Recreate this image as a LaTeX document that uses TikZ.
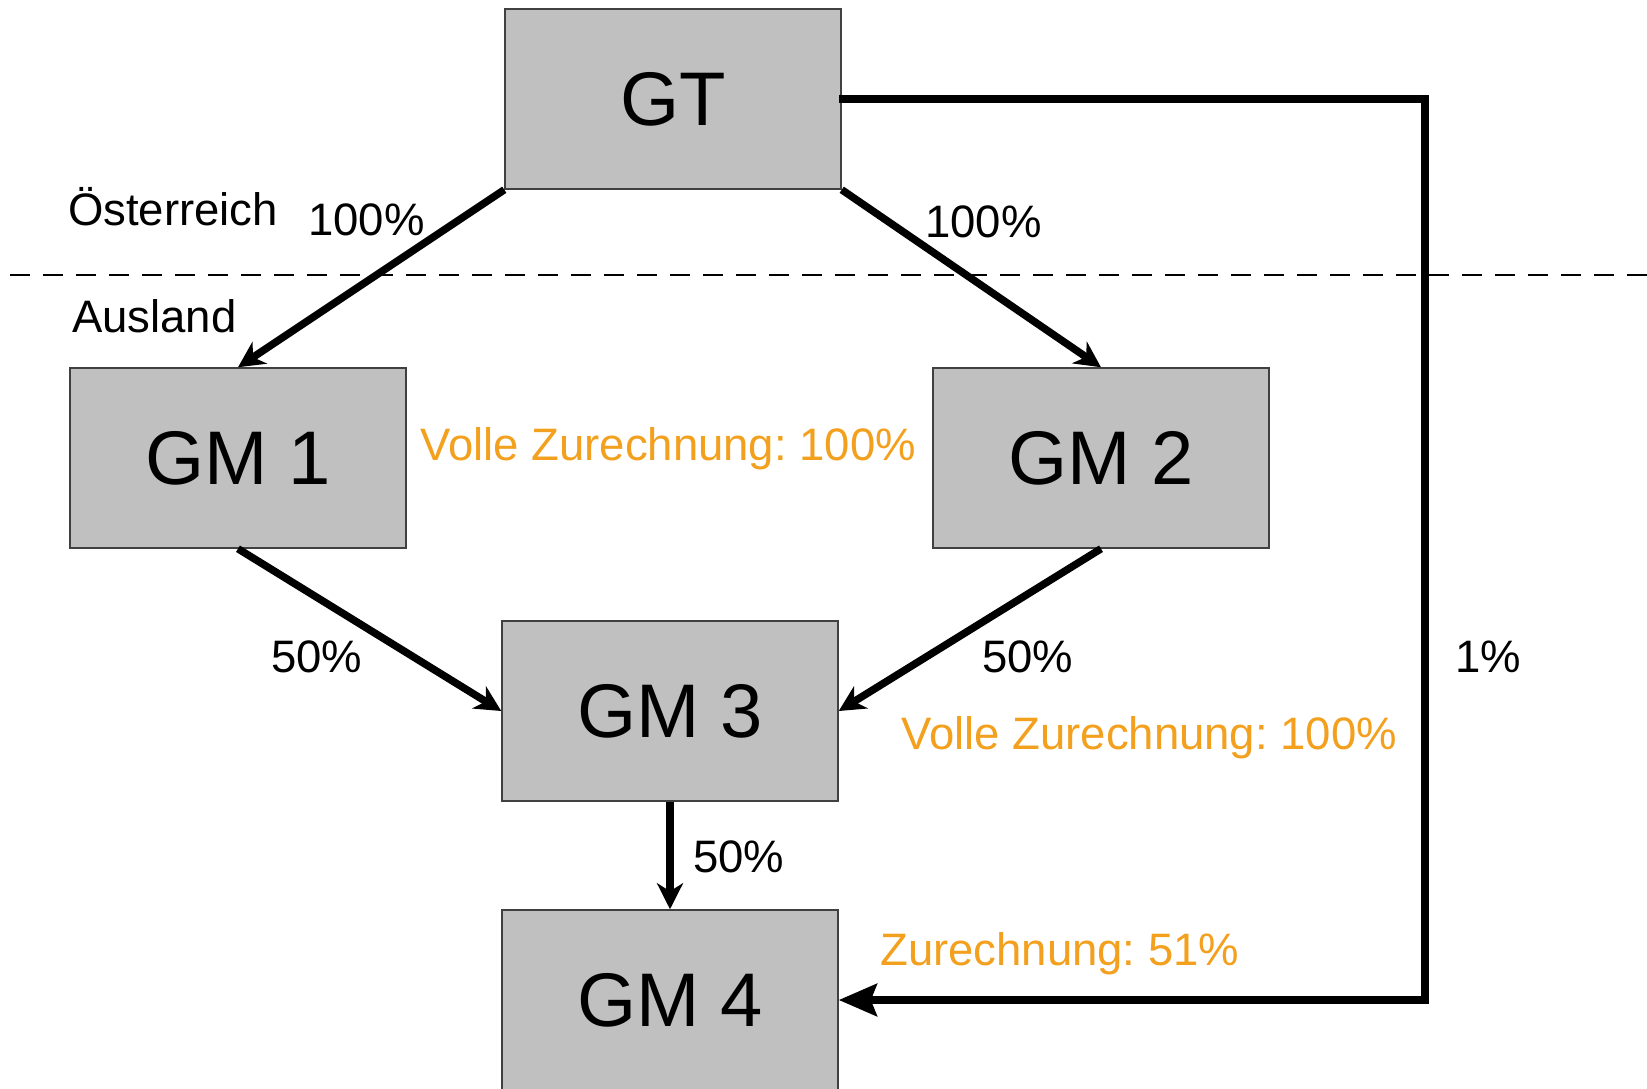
\documentclass[tikz,border=0pt]{standalone}
\usepackage{fontspec}
\setmainfont{Liberation Sans}
\usetikzlibrary{arrows.meta}
\definecolor{boxgray}{RGB}{192,192,192}
\definecolor{orangetxt}{RGB}{242,160,30}
\frenchspacing
\begin{document}
\begin{tikzpicture}[x=1pt,y=-1pt,
  box/.style={draw=black!75, line width=1.5pt, fill=boxgray, minimum width=336pt, minimum height=180pt, inner sep=0pt, font=\fontsize{76}{80}\selectfont},
  conn/.style={line width=7.5pt, line join=miter, -{Stealth[length=26pt,width=26pt,inset=8pt]}},
  bigconn/.style={line width=7.5pt, line join=miter, -{Stealth[length=38pt,width=32pt,inset=6pt]}},
  lbl/.style={font=\fontsize{45.5}{48}\selectfont, inner sep=0pt, anchor=base west},
  olbl/.style={lbl, text=orangetxt},
  divider/.style={line width=2pt, dash pattern=on 20pt off 13pt}]
\useasboundingbox (0,0) rectangle (1647,1088);

\coordinate (dl) at (10,275);
\coordinate (dr) at (1647,275);
\draw[divider] (dl) -- (dr);

\node[box] (GT)  at (673,99)  {GT};
\node[box] (GM1) at (238,458) {GM 1};
\node[box] (GM2) at (1101,458) {GM 2};
\node[box] (GM3) at (670,711) {GM 3};
\node[box] (GM4) at (670,1000) {GM 4};

\coordinate (c1) at (1425,99);
\coordinate (c2) at (1425,1000);

\draw[conn] (GT.south west) -- (GM1.north);
\draw[conn] (GT.south east) -- (GM2.north);
\draw[conn] (GM1.south) -- (GM3.west);
\draw[conn] (GM2.south) -- (GM3.east);
\draw[conn] (GM3.south) -- (GM4.north);
\draw[bigconn] ([xshift=-3pt]GT.east) -- (c1) -- (c2) -- (GM4.east);

\node[lbl] (oest) at (68,225) {Österreich};
\node[lbl] (ausl) at (72,332) {Ausland};
\node[lbl] (p1) at (308,235) {100\%};
\node[lbl] (p2) at (925,237) {100\%};
\node[olbl] (vz1) at (420,460) {Volle Zurechnung: 100\%};
\node[lbl] (p3) at (271,672) {50\%};
\node[lbl] (p4) at (982,672) {50\%};
\node[olbl] (vz2) at (901,749) {Volle Zurechnung: 100\%};
\node[lbl] (p5) at (693,872) {50\%};
\node[olbl] (z51) at (880,965) {Zurechnung: 51\%};
\node[lbl] (p6) at (1455,672) {1\%};
\end{tikzpicture}
\end{document}
